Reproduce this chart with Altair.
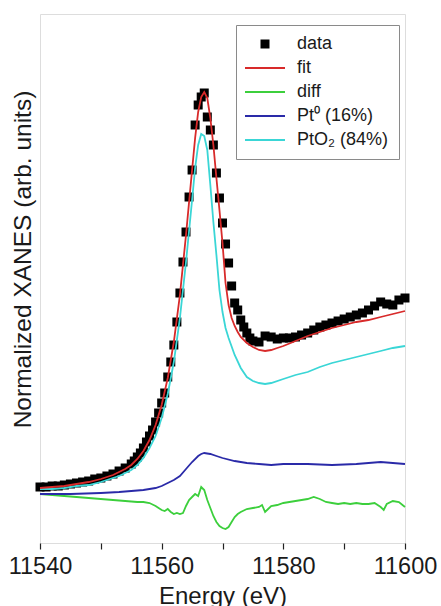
import altair as alt
import pandas as pd

# ---------------- data (arbitrary normalized units) ----------------
data_E = [11540, 11541, 11542, 11543, 11544, 11545, 11546, 11547, 11548, 11549,
          11550, 11551, 11552, 11553, 11554, 11555, 11555.5, 11556, 11556.5, 11557,
          11557.5, 11558, 11558.5, 11559, 11559.5, 11560, 11560.5, 11561, 11561.5, 11562,
          11562.5, 11563, 11563.5, 11564, 11564.5, 11565, 11565.5, 11566, 11566.5, 11567,
          11567.5, 11568, 11568.5, 11569, 11569.5, 11570, 11570.5, 11571, 11571.5, 11572,
          11572.5, 11573, 11573.5, 11574, 11574.5, 11575, 11576, 11577, 11578, 11579,
          11580, 11581, 11582, 11583, 11584, 11585, 11586, 11587, 11588, 11589,
          11590, 11591, 11592, 11593, 11594, 11595, 11596, 11597, 11598, 11599, 11600]
data_y = [0.56, 0.56, 0.57, 0.57, 0.58, 0.59, 0.60, 0.61, 0.62, 0.64,
          0.65, 0.67, 0.69, 0.72, 0.75, 0.79, 0.82, 0.86, 0.90, 0.95,
          1.01, 1.07, 1.13, 1.21, 1.30, 1.40, 1.50, 1.66, 1.81, 1.98,
          2.21, 2.50, 2.81, 3.11, 3.46, 3.73, 4.18, 4.38, 4.46, 4.50,
          4.26, 4.13, 3.98, 3.70, 3.45, 3.20, 2.99, 2.80, 2.57, 2.40,
          2.33, 2.23, 2.16, 2.10, 2.05, 2.02, 2.01, 2.07, 2.06, 2.04,
          2.05, 2.05, 2.06, 2.08, 2.10, 2.13, 2.16, 2.18, 2.20, 2.22,
          2.24, 2.26, 2.28, 2.30, 2.33, 2.37, 2.41, 2.39, 2.38, 2.43, 2.45]

fit_E = [11540, 11542, 11544, 11546, 11548, 11550, 11552, 11553, 11554, 11555,
         11556, 11557, 11558, 11559, 11560, 11561, 11562, 11563, 11564, 11565,
         11565.5, 11566, 11566.5, 11567, 11567.5, 11568, 11568.5, 11569, 11569.5, 11570,
         11570.5, 11571, 11571.5, 11572, 11572.5, 11573, 11574, 11575, 11576, 11577,
         11578, 11579, 11580, 11582, 11584, 11586, 11588, 11590, 11592, 11594,
         11596, 11598, 11600]
fit_y = [0.55, 0.56, 0.57, 0.59, 0.61, 0.64, 0.68, 0.71, 0.74, 0.78,
         0.84, 0.92, 1.03, 1.18, 1.38, 1.65, 2.01, 2.48, 3.08, 3.73,
         4.05, 4.31, 4.46, 4.51, 4.45, 4.25, 3.98, 3.65, 3.33, 3.00,
         2.60, 2.38, 2.25, 2.17, 2.11, 2.06, 2.00, 1.96, 1.93, 1.92,
         1.93, 1.95, 1.97, 2.02, 2.07, 2.11, 2.15, 2.18, 2.21, 2.23,
         2.26, 2.29, 2.32]

pto2_E = [11540, 11542, 11544, 11546, 11548, 11550, 11552, 11553, 11554, 11555,
          11556, 11557, 11558, 11559, 11560, 11561, 11562, 11563, 11564, 11565,
          11565.5, 11566, 11566.5, 11567, 11567.5, 11568, 11568.5, 11569, 11569.5, 11570,
          11570.5, 11571, 11572, 11573, 11574, 11575, 11576, 11577, 11578, 11580,
          11582, 11584, 11586, 11588, 11590, 11592, 11594, 11596, 11598, 11600]
pto2_y = [0.54, 0.54, 0.55, 0.57, 0.58, 0.61, 0.65, 0.67, 0.70, 0.73,
          0.78, 0.85, 0.95, 1.07, 1.25, 1.49, 1.81, 2.25, 2.81, 3.43,
          3.75, 3.98, 4.09, 4.07, 3.93, 3.58, 3.21, 2.88, 2.53, 2.31,
          2.15, 2.05, 1.88, 1.75, 1.66, 1.62, 1.60, 1.59, 1.60, 1.64,
          1.68, 1.71, 1.76, 1.80, 1.83, 1.86, 1.89, 1.92, 1.95, 1.97]

pt0_E = [11540, 11545, 11550, 11553, 11555, 11557, 11558, 11559, 11560, 11561,
         11562, 11563, 11564, 11565, 11566, 11566.5, 11567, 11568, 11569, 11570,
         11572, 11574, 11576, 11578, 11580, 11584, 11588, 11592, 11594, 11596,
         11598, 11600]
pt0_y = [0.49, 0.49, 0.50, 0.51, 0.52, 0.53, 0.54, 0.55, 0.57, 0.60,
         0.63, 0.67, 0.74, 0.81, 0.87, 0.89, 0.90, 0.89, 0.87, 0.85,
         0.82, 0.80, 0.79, 0.78, 0.79, 0.79, 0.78, 0.79, 0.80, 0.81,
         0.80, 0.79]

diff_E = [11540, 11542, 11544, 11546, 11548, 11550, 11552, 11554, 11556, 11557,
          11558, 11559, 11560, 11560.5, 11561, 11561.5, 11562, 11562.5, 11563, 11563.5,
          11564, 11564.5, 11565, 11565.5, 11566, 11566.5, 11567, 11567.5, 11568, 11568.5,
          11569, 11569.5, 11570, 11570.5, 11571, 11571.5, 11572, 11572.5, 11573, 11574,
          11575, 11576, 11576.5, 11577, 11577.5, 11578, 11579, 11580, 11581, 11582,
          11583, 11584, 11585, 11586, 11587, 11588, 11589, 11590, 11591, 11592,
          11593, 11594, 11595, 11596, 11596.5, 11597, 11598, 11599, 11600]
diff_y = [0.49, 0.48, 0.47, 0.46, 0.45, 0.44, 0.43, 0.42, 0.41, 0.41,
          0.40, 0.37, 0.33, 0.32, 0.34, 0.31, 0.29, 0.30, 0.29, 0.30,
          0.37, 0.43, 0.46, 0.49, 0.47, 0.56, 0.53, 0.43, 0.35, 0.27,
          0.21, 0.17, 0.15, 0.14, 0.16, 0.21, 0.26, 0.29, 0.31, 0.34,
          0.35, 0.36, 0.38, 0.31, 0.34, 0.37, 0.38, 0.40, 0.41, 0.42,
          0.43, 0.44, 0.46, 0.44, 0.41, 0.40, 0.39, 0.40, 0.39, 0.40,
          0.39, 0.39, 0.40, 0.36, 0.33, 0.39, 0.42, 0.41, 0.36]

series_names = ["data", "fit", "diff", "Pt\u2070 (16%)", "PtO\u2082 (84%)"]
series_colors = ["#000000", "#d82a2a", "#3ccf3c", "#2a2aa8", "#3ad6d6"]
x_ticks = [11540, 11550, 11560, 11570, 11580, 11590, 11600]

# ---------------- frames ----------------
df_data = pd.DataFrame({"E": data_E, "y": data_y, "series": series_names[0]})
df_fit = pd.DataFrame({"E": fit_E, "y": fit_y, "series": series_names[1]})
df_diff = pd.DataFrame({"E": diff_E, "y": diff_y, "series": series_names[2]})
df_pt0 = pd.DataFrame({"E": pt0_E, "y": pt0_y, "series": series_names[3]})
df_pto2 = pd.DataFrame({"E": pto2_E, "y": pto2_y, "series": series_names[4]})

FONT = "Liberation Sans"

x_enc = alt.X("E:Q",
              scale=alt.Scale(domain=[11540, 11600], nice=False, zero=False),
              axis=alt.Axis(values=x_ticks, format="d",
                            labelExpr="datum.value % 20 === 0 ? datum.label : ''",
                            title="Energy (eV)", grid=False, domain=False,
                            ticks=True, tickSize=6, tickColor="#222", tickWidth=1.2,
                            labelFont=FONT, labelFontSize=23.5, labelColor="#1a1a1a",
                            labelPadding=5, labelOverlap=False, labelFlush=False,
                            titleFont=FONT, titleFontSize=24, titleFontWeight="normal",
                            titleColor="#1a1a1a", titlePadding=7))
y_enc = alt.Y("y:Q",
              scale=alt.Scale(domain=[0, 5.29], nice=False, zero=False),
              axis=alt.Axis(title="Normalized XANES (arb. units)", labels=False,
                            ticks=False, domain=False, grid=False,
                            titleFont=FONT, titleFontSize=24.5, titleFontWeight="normal",
                            titleColor="#1a1a1a", titlePadding=5, titleY=245))

is_data = "datum.value === 'data'"
square_path = "M-0.225,-0.225H0.225V0.225H-0.225Z"
color_enc = alt.Color(
    "series:N",
    scale=alt.Scale(domain=series_names, range=series_colors),
    legend=alt.Legend(
        title=None, orient="none", legendX=196, legendY=11,
        labelFont=FONT, labelFontSize=18, labelColor="#1a1a1a", labelOffset=23,
        symbolType={"expr": f"{is_data} ? '{square_path}' : 'stroke'"},
        symbolSize=1600, symbolOffset=10,
        symbolFillColor={"expr": f"{is_data} ? 'black' : 'transparent'"},
        symbolStrokeWidth={"expr": f"{is_data} ? 0 : 2"},
        rowPadding=6, padding=10, strokeColor="#8a8a8a", fillColor="white",
    ),
)

points = alt.Chart(df_data).mark_square(size=81, opacity=1, color="black").encode(
    x=x_enc, y=y_enc)

def line_layer(df):
    return alt.Chart(df).mark_line(strokeWidth=1.8).encode(
        x=x_enc, y=y_enc, color=color_enc, order="E:Q")

chart = alt.layer(
    points,
    line_layer(df_diff),
    line_layer(df_pt0),
    line_layer(df_pto2),
    line_layer(df_fit),
).properties(
    width=365, height=529,
    autosize=alt.AutoSizeParams(type="none"),
    padding={"left": 40, "top": 14, "right": 36, "bottom": 63},
).configure_view(
    stroke="#2a2a2a", strokeWidth=1.6
).configure(background="white")

chart.save("out.html", embed_options={"renderer": "svg", "actions": False})
